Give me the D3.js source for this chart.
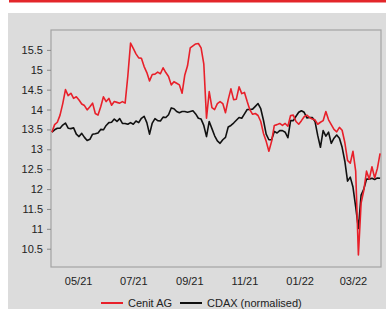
<!doctype html>
<html>
<head>
<script src="https://cdn.jsdelivr.net/npm/d3@7"></script>
<style>
  body { margin: 0; background: #fff; }
  svg { display: block; font-family: "Liberation Sans", Arial, sans-serif; }
  .axis text { font-size: 11px; fill: #222; }
  .legend text { font-size: 11px; fill: #222; }
</style>
</head>
<body>
<script>
// one reading every 3 days, 2021-04-02 .. 2022-03-30
var dates = [
  "2021-04-02","2021-04-05","2021-04-08","2021-04-11","2021-04-14","2021-04-17","2021-04-20","2021-04-23","2021-04-26","2021-04-29",
  "2021-05-02","2021-05-05","2021-05-08","2021-05-11","2021-05-14","2021-05-17","2021-05-20","2021-05-23","2021-05-26","2021-05-29",
  "2021-06-01","2021-06-04","2021-06-07","2021-06-10","2021-06-13","2021-06-16","2021-06-19","2021-06-22","2021-06-25","2021-06-28",
  "2021-07-01","2021-07-04","2021-07-07","2021-07-10","2021-07-13","2021-07-16","2021-07-19","2021-07-22","2021-07-25","2021-07-28",
  "2021-07-31","2021-08-03","2021-08-06","2021-08-09","2021-08-12","2021-08-15","2021-08-18","2021-08-21","2021-08-24","2021-08-27",
  "2021-08-30","2021-09-02","2021-09-05","2021-09-08","2021-09-11","2021-09-14","2021-09-17","2021-09-20","2021-09-23","2021-09-26",
  "2021-09-29","2021-10-02","2021-10-05","2021-10-08","2021-10-11","2021-10-14","2021-10-17","2021-10-20","2021-10-23","2021-10-26",
  "2021-10-29","2021-11-01","2021-11-04","2021-11-07","2021-11-10","2021-11-13","2021-11-16","2021-11-19","2021-11-22","2021-11-25",
  "2021-11-28","2021-12-01","2021-12-04","2021-12-07","2021-12-10","2021-12-13","2021-12-16","2021-12-19","2021-12-22","2021-12-25",
  "2021-12-28","2021-12-31","2022-01-03","2022-01-06","2022-01-09","2022-01-12","2022-01-15","2022-01-18","2022-01-21","2022-01-24",
  "2022-01-27","2022-01-30","2022-02-02","2022-02-05","2022-02-08","2022-02-11","2022-02-14","2022-02-17","2022-02-20","2022-02-23",
  "2022-02-26","2022-03-01","2022-03-04","2022-03-07","2022-03-10","2022-03-13","2022-03-16","2022-03-19","2022-03-22","2022-03-25",
  "2022-03-28","2022-03-31"
];

var cenit = [
  13.43,13.62,13.68,13.86,14.15,14.50,14.35,14.41,14.28,14.32,
  14.24,14.14,14.10,13.99,14.07,14.16,13.90,13.86,14.07,14.32,
  14.20,14.28,14.11,14.20,14.18,14.16,14.20,14.16,14.85,15.67,
  15.54,15.40,15.30,15.29,15.08,14.93,14.72,14.88,14.89,14.94,
  14.90,15.05,14.93,14.83,14.62,14.70,14.66,14.62,14.41,14.87,
  15.10,15.55,15.60,15.65,15.66,15.55,15.15,13.78,14.45,14.05,
  14.00,14.15,14.20,14.15,13.92,14.25,14.52,14.25,14.26,14.57,
  14.40,14.43,14.20,13.99,13.88,13.90,13.85,13.70,13.40,13.20,
  12.95,13.20,13.60,13.62,13.65,13.60,13.65,13.58,13.85,13.86,
  13.70,13.63,13.72,13.82,13.86,13.80,13.76,13.74,13.63,13.68,
  13.72,13.95,13.74,13.62,13.50,13.44,13.55,13.48,13.17,12.72,
  12.65,12.95,12.45,10.34,11.65,11.97,12.45,12.25,12.56,12.28,
  12.52,12.90
];

var cdax = [
  13.43,13.49,13.53,13.53,13.61,13.66,13.53,13.52,13.54,13.38,
  13.32,13.40,13.30,13.22,13.25,13.38,13.39,13.41,13.50,13.49,
  13.60,13.67,13.68,13.76,13.70,13.77,13.65,13.65,13.63,13.67,
  13.63,13.71,13.67,13.78,13.83,13.67,13.38,13.66,13.77,13.72,
  13.71,13.81,13.80,13.87,14.04,14.02,13.95,13.92,13.95,13.95,
  13.93,13.95,13.97,13.89,13.78,13.76,13.60,13.32,13.70,13.52,
  13.34,13.21,13.15,13.24,13.30,13.56,13.60,13.66,13.73,13.80,
  13.78,13.89,14.00,14.00,14.01,14.08,14.15,14.02,13.73,13.38,
  13.24,13.24,13.45,13.41,13.47,13.47,13.43,13.29,13.72,13.72,
  13.83,13.93,13.97,13.93,13.79,13.80,13.80,13.70,13.35,13.05,
  13.47,13.33,13.43,13.15,13.28,13.36,13.28,13.05,12.70,12.20,
  12.30,12.05,11.55,11.01,11.85,12.00,12.25,12.25,12.27,12.24,
  12.28,12.27
];

var seriesNames = ["Cenit AG", "CDAX (normalised)"];
var seriesColors = ["#e8202a", "#111111"];
var yTicks = [10.5, 11, 11.5, 12, 12.5, 13, 13.5, 14, 14.5, 15, 15.5];
var xTicks = ["2021-05-01","2021-07-01","2021-09-01","2021-11-01","2022-01-01","2022-03-01"];

var width = 386, height = 309;
var parse = d3.timeParse("%Y-%m-%d");

var svg = d3.select("body").append("svg").attr("width", width).attr("height", height);

// red rule on top, grey panel below
svg.append("rect").attr("x", 9).attr("y", 0).attr("width", width - 9).attr("height", 2.5).attr("fill", "#e3262a");
svg.append("rect").attr("x", 8).attr("y", 13).attr("width", width - 8).attr("height", height - 13).attr("fill", "#dcdcdc");

var x = d3.scaleTime().domain([parse("2021-04-01"), parse("2022-04-01")]).range([51, 381]);
var y = d3.scaleLinear().domain([10.04, 16.0]).range([267, 30]);

// frame
svg.append("rect").attr("x", 51).attr("y", 30).attr("width", 330).attr("height", 237)
  .attr("fill", "none").attr("stroke", "#a3a3a3").attr("stroke-width", 1.2);

var yAxis = svg.append("g").attr("class", "axis").attr("transform", "translate(51,0)")
  .call(d3.axisLeft(y).tickValues(yTicks).tickSize(4).tickPadding(4).tickFormat(d3.format("")));
yAxis.select(".domain").remove();
yAxis.selectAll("line").attr("stroke", "#888");

var xAxis = svg.append("g").attr("class", "axis").attr("transform", "translate(0,267)")
  .call(d3.axisBottom(x).tickValues(xTicks.map(parse)).tickSize(0).tickPadding(10).tickFormat(d3.timeFormat("%m/%y")));
xAxis.select(".domain").remove();

var line = d3.line()
  .x(function(d) { return x(d[0]); })
  .y(function(d) { return y(d[1]); });

var series = [cenit, cdax];
// draw CDAX first so Cenit sits on top
[1, 0].forEach(function(s) {
  var pts = dates.map(function(d, i) { return [parse(d), series[s][i]]; });
  svg.append("path").datum(pts).attr("d", line)
    .attr("fill", "none").attr("stroke", seriesColors[s]).attr("stroke-width", 1.6)
    .attr("stroke-linejoin", "round");
});

// legend
var legendX = [101, 180];
var legend = svg.append("g").attr("class", "legend");
seriesNames.forEach(function(n, i) {
  legend.append("line").attr("x1", legendX[i]).attr("x2", legendX[i] + 22).attr("y1", 303).attr("y2", 303)
    .attr("stroke", seriesColors[i]).attr("stroke-width", 2);
  legend.append("text").attr("x", legendX[i] + 27).attr("y", 306.5).text(n);
});
</script>
</body>
</html>
